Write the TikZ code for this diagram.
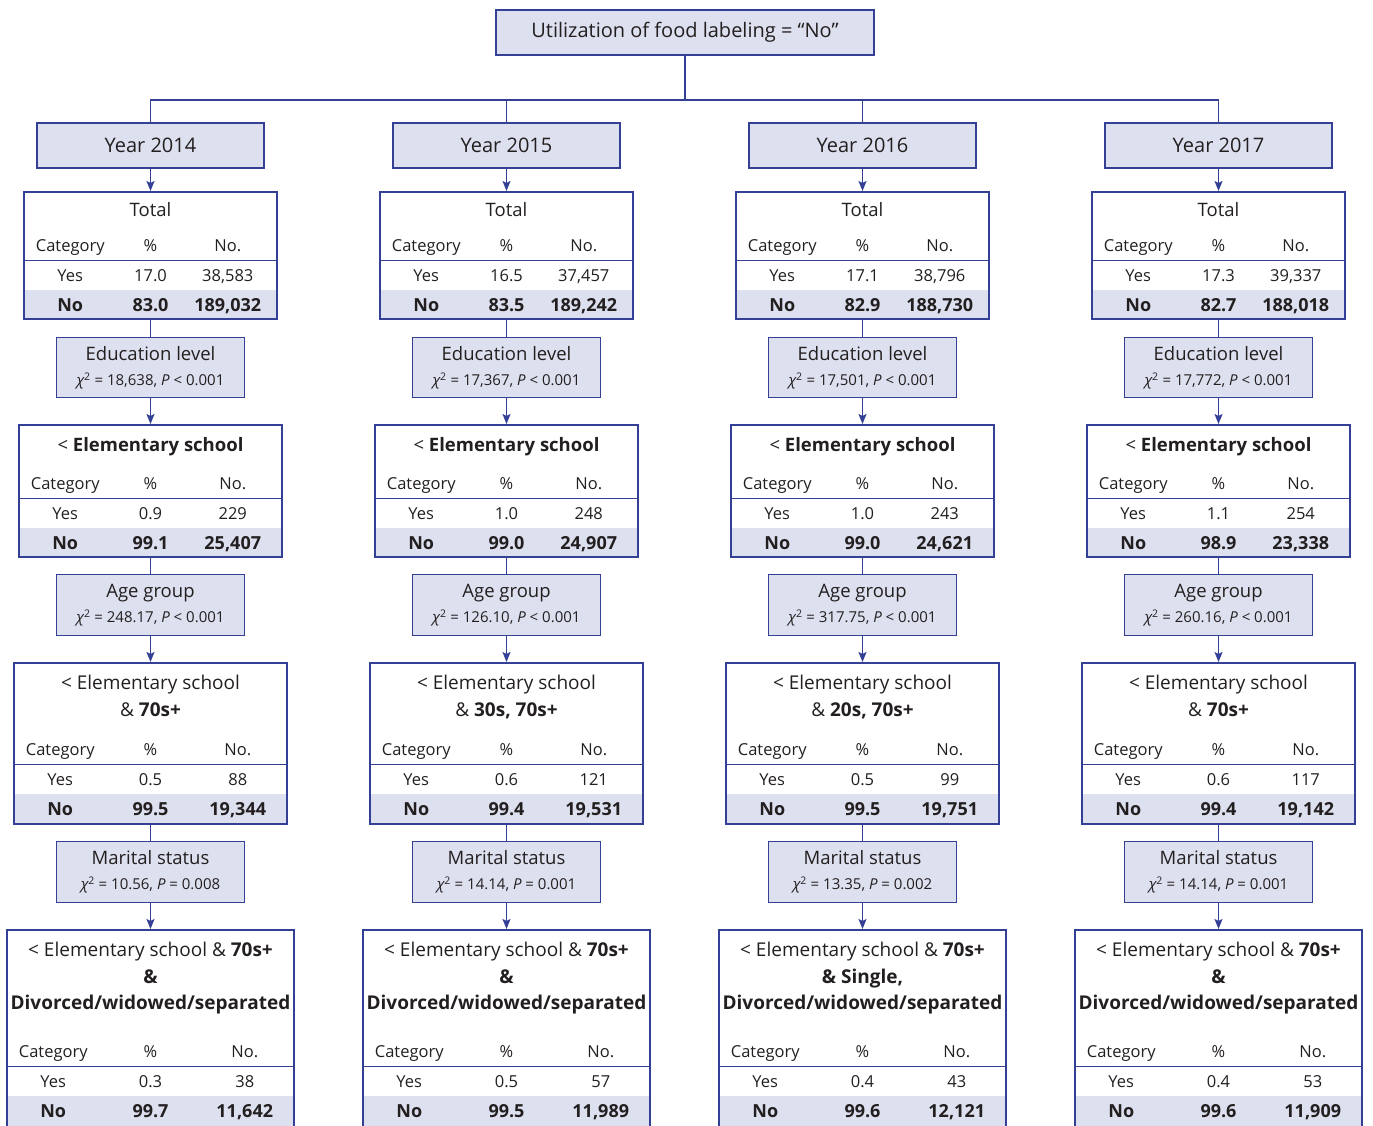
\documentclass[tikz,border=0pt]{standalone}
\usepackage{fontspec}
\setmainfont{Open Sans}
\usetikzlibrary{arrows.meta,positioning,backgrounds}
\definecolor{navy}{RGB}{52,64,150}
\definecolor{lav}{RGB}{221,224,238}
\definecolor{ink}{RGB}{35,31,32}
\newcommand{\chiline}[3]{{\fontsize{15}{25}\selectfont{\itshape χ}\textsuperscript{2} = #1, {\itshape P} #2 #3}}
% rows of a result table: [lift] box yes% yesN no% noN
\newcommand{\tabrows}[6][0pt]{%
  \begin{scope}[on background layer]
    \fill[lav] (#2.south west) rectangle ([yshift=#1+30pt]#2.south east);
  \end{scope}
  \draw[link] ([yshift=#1+59pt]#2.south west) -- ([yshift=#1+59pt]#2.south east);
  \node[cell] (#2-cat) at ([xshift=47pt,yshift=#1+74pt]#2.south west) {Category};
  \node[cell] (#2-pct) at ([yshift=#1+74pt]#2.south) {\%};
  \node[cell] (#2-num) at ([xshift=-50pt,yshift=#1+74pt]#2.south east) {No.};
  \node[cell] (#2-ya) at ([xshift=47pt,yshift=#1+44pt]#2.south west) {Yes};
  \node[cell] (#2-yb) at ([yshift=#1+44pt]#2.south) {#3};
  \node[cell] (#2-yc) at ([xshift=-50pt,yshift=#1+44pt]#2.south east) {#4};
  \node[bcell] (#2-na) at ([xshift=47pt,yshift=#1+15pt]#2.south west) {No};
  \node[bcell] (#2-nb) at ([yshift=#1+15pt]#2.south) {#5};
  \node[bcell] (#2-nc) at ([xshift=-50pt,yshift=#1+15pt]#2.south east) {#6};
}
\tikzset{
  box/.style={draw=navy,line width=1.5pt,inner sep=0pt,align=center,text=ink},
  shaded/.style={box,fill=lav},
  headbox/.style={shaded,minimum width=378pt,minimum height=45pt,font=\fontsize{20}{24}\selectfont},
  yearbox/.style={shaded,minimum width=227pt,minimum height=45pt,font=\fontsize{20}{24}\selectfont},
  testbox/.style={shaded,minimum width=188pt,minimum height=60pt,font=\fontsize{18.5}{25}\selectfont},
  tabbox/.style={box,anchor=north},
  link/.style={navy,line width=1.5pt},
  arr/.style={link,-{Stealth[length=10pt,width=8pt,inset=2pt]}},
  cell/.style={text=ink,inner sep=0pt,text height=12pt,text depth=0pt,font=\fontsize{16.5}{20}\selectfont},
  bcell/.style={cell,text height=13pt,font=\fontsize{18}{22}\selectfont\bfseries},
  title/.style={text=ink,inner sep=0pt,align=center,anchor=north,font=\fontsize{19}{26.5}\selectfont},
}

\begin{document}
\begin{tikzpicture}[x=1pt,y=-1pt]
  \useasboundingbox (0,0) rectangle (1373,1125);
  \node[headbox] (head) at (685,32.5) {Utilization of food labeling = “No”};
  \coordinate (split) at (685,100);
  \draw[link] (head.south) -- (split);
% years
  \foreach \yr/\x in {14/150.5,15/506.5,16/862.5,17/1218.5}{
    \node[yearbox] (y\yr) at (\x,145.5) {Year 20\yr};
    \draw[link] (split) -| (y\yr.north);
  }
% totals
  \foreach \yr/\x/\yp/\yn/\np/\nn in {14/150.5/17.0/{38,583}/83.0/{189,032},
      15/506.5/16.5/{37,457}/83.5/{189,242},16/862.5/17.1/{38,796}/82.9/{188,730},
      17/1218.5/17.3/{39,337}/82.7/{188,018}}{
    \node[tabbox,minimum width=253pt,minimum height=127pt] (t\yr) at (\x,191) {};
    \node[title,font=\fontsize{18.5}{26}\selectfont] (t\yr-t) at ([yshift=-11pt]t\yr.north) {Total};
    \tabrows{t\yr}{\yp}{\yn}{\np}{\nn}
    \draw[arr] (y\yr) -- (t\yr);
  }
% education level
  \foreach \yr/\x/\cs in {14/150.5/{18,638},15/506.5/{17,367},16/862.5/{17,501},17/1218.5/{17,772}}{
    \node[testbox] (e\yr) at (\x,367.5) {Education level\\\chiline{\cs}{<}{0.001}};
    \draw[link] (t\yr) -- (e\yr);
  }
  \foreach \yr/\x/\yp/\yn/\np/\nn in {14/150.5/0.9/229/99.1/{25,407},
      15/506.5/1.0/248/99.0/{24,907},16/862.5/1.0/243/99.0/{24,621},
      17/1218.5/1.1/254/98.9/{23,338}}{
    \node[tabbox,minimum width=263pt,minimum height=132pt] (s\yr) at (\x,424) {};
    \node[title,font=\fontsize{18.5}{26}\selectfont] (s\yr-t) at ([yshift=-13pt]s\yr.north) {< {\bfseries Elementary school}};
    \tabrows{s\yr}{\yp}{\yn}{\np}{\nn}
    \draw[arr] (e\yr) -- (s\yr);
  }
% age group
  \foreach \yr/\x/\cs in {14/150.5/248.17,15/506.5/126.10,16/862.5/317.75,17/1218.5/260.16}{
    \node[testbox,minimum height=61pt] (a\yr) at (\x,605) {Age group\\\chiline{\cs}{<}{0.001}};
    \draw[link] (s\yr) -- (a\yr);
  }
  \foreach \yr/\x/\ag/\yp/\yn/\np/\nn in {14/150.5/70s+/0.5/88/99.5/{19,344},
      15/506.5/{30s, 70s+}/0.6/121/99.4/{19,531},16/862.5/{20s, 70s+}/0.5/99/99.5/{19,751},
      17/1218.5/70s+/0.6/117/99.4/{19,142}}{
    \node[tabbox,minimum width=273pt,minimum height=161pt] (g\yr) at (\x,662) {};
    \node[title] (g\yr-t) at ([yshift=-13pt]g\yr.north) {< Elementary school\\\& {\bfseries \ag}};
    \tabrows[1pt]{g\yr}{\yp}{\yn}{\np}{\nn}
    \draw[arr] (a\yr) -- (g\yr);
  }
% marital status
  \foreach \yr/\x/\cs/\pv in {14/150.5/10.56/0.008,15/506.5/14.14/0.001,16/862.5/13.35/0.002,17/1218.5/14.14/0.001}{
    \node[testbox,minimum height=61pt] (m\yr) at (\x,872) {Marital status\\\chiline{\cs}{=}{\pv}};
    \draw[link] (g\yr) -- (m\yr);
  }
  \foreach \yr/\x/\ms/\yp/\yn/\np/\nn in {14/150.5/\&/0.3/38/99.7/{11,642},
      15/506.5/\&/0.5/57/99.5/{11,989},16/862.5/{\& Single,}/0.4/43/99.6/{12,121},
      17/1218.5/\&/0.4/53/99.6/{11,909}}{
    \node[tabbox,minimum width=287pt,minimum height=199pt] (f\yr) at (\x,929) {};
    \node[title] (f\yr-t) at ([yshift=-13pt]f\yr.north) {< Elementary school \& {\bfseries 70s+}\\{\bfseries \ms}\\{\bfseries Divorced/widowed/separated}};
    \tabrows[4pt]{f\yr}{\yp}{\yn}{\np}{\nn}
    \draw[arr] (m\yr) -- (f\yr);
  }
\end{tikzpicture}
\end{document}
